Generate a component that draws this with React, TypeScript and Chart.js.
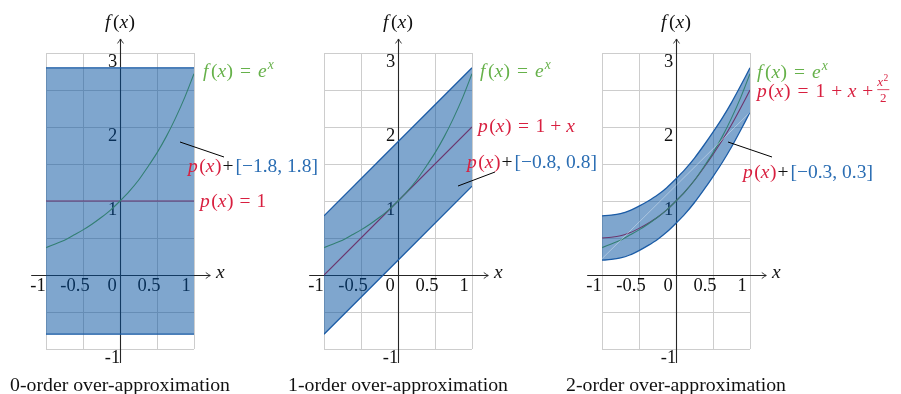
import React, { useEffect, useRef } from 'react';
import { Chart, registerables } from 'chart.js';

Chart.register(...registerables);

// ---------- data ----------
const curveX = [-1, -0.875, -0.75, -0.625, -0.5, -0.375, -0.25, -0.125, 0, 0.125, 0.25, 0.375, 0.5, 0.625, 0.75, 0.875, 1];
const expValues = [0.37, 0.42, 0.47, 0.54, 0.61, 0.69, 0.78, 0.88, 1.0, 1.13, 1.28, 1.46, 1.65, 1.87, 2.12, 2.4, 2.72];

const order0X = [-1, 1];
const order0P = [1, 1];
const order0Upper = [2.8, 2.8];
const order0Lower = [-0.8, -0.8];

const order1X = [-1, 1];
const order1P = [0, 2];
const order1Upper = [0.8, 2.8];
const order1Lower = [-0.8, 1.2];

const order2P = [0.5, 0.51, 0.53, 0.57, 0.63, 0.7, 0.78, 0.88, 1.0, 1.13, 1.28, 1.45, 1.63, 1.82, 2.03, 2.26, 2.5];
const order2Upper = [0.8, 0.81, 0.83, 0.87, 0.93, 1.0, 1.08, 1.18, 1.3, 1.43, 1.58, 1.75, 1.93, 2.12, 2.33, 2.56, 2.8];
const order2Lower = [0.2, 0.21, 0.23, 0.27, 0.33, 0.4, 0.48, 0.58, 0.7, 0.83, 0.98, 1.15, 1.33, 1.52, 1.73, 1.96, 2.2];
const order2SeamX = [-1, 1];
const order2SeamY = [0.22, 2.2];

const xTickValues = [-1, -0.5, 0, 0.5, 1];
const xTickLabels = ['-1', '-0.5', '0', '0.5', '1'];
const yTickValues = [-1, 1, 2, 3];
const yTickLabels = ['-1', '1', '2', '3'];

const captions = ['0-order over-approximation', '1-order over-approximation', '2-order over-approximation'];
const intervals = ['[\u22121.8, 1.8]', '[\u22120.8, 0.8]', '[\u22120.3, 0.3]'];

// ---------- style ----------
const W = 345;
const H = 394;
const RED = '#d81f3f';
const GREEN = '#66b14a';
const BLUE = '#2a6db3';
const BAND = 'rgba(0, 78, 158, 0.5)';
const EDGE = '#1b5ca6';
const SERIF = '"Liberation Serif", "Times New Roman", serif';
const TICK_SIZE = 18.5;
const CAPTION_SIZE = 19.8;
const MATH_SIZE = 19.5;

type Part = { t: string; it?: boolean; c?: string; sup?: boolean; dx?: number };

function drawRich(ctx: CanvasRenderingContext2D, x: number, y: number, parts: Part[], size: number, color: string, draw = true): number {
  let cx = x;
  for (const p of parts) {
    const s = p.sup ? size * 0.7 : size;
    ctx.font = `${p.it ? 'italic ' : ''}${s}px ${SERIF}`;
    ctx.fillStyle = p.c ?? color;
    cx += p.dx ?? 0;
    if (draw) ctx.fillText(p.t, cx, p.sup ? y - size * 0.4 : y);
    cx += ctx.measureText(p.t).width;
  }
  return cx;
}

const pX: Part[] = [{ t: 'p', it: true }, { t: '(', dx: 1.5 }, { t: 'x', it: true }, { t: ')', dx: 0.5 }];
const fLabelParts: Part[] = [
  { t: 'f', it: true }, { t: '(', dx: 2.5 }, { t: 'x', it: true }, { t: ')', dx: 0.5 },
  { t: '=', dx: 7 }, { t: 'e', it: true, dx: 7 }, { t: 'x', it: true, sup: true, dx: 1 },
];
const p0Parts: Part[] = [...pX, { t: '=', dx: 6 }, { t: '1', dx: 6 }];
const p1Parts: Part[] = [...pX, { t: '=', dx: 6.5 }, { t: '1', dx: 6.5 }, { t: '+', dx: 5 }, { t: 'x', it: true, dx: 5 }];
const p2Parts: Part[] = [...pX, { t: '=', dx: 7 }, { t: '1', dx: 7 }, { t: '+', dx: 6 }, { t: 'x', it: true, dx: 5.5 }, { t: '+', dx: 6 }];

interface PanelCfg {
  left: number;
  idx: number;
  bandX: number[];
  upper: number[];
  lower: number[];
  polyX: number[];
  poly: number[];
  seamX?: number[];
  seamY?: number[];
  pParts: Part[];
  frac?: boolean;
  fPos: [number, number];
  pPos: [number, number];
  iPos: [number, number];
  pointer: [number, number, number, number];
}

const panels: PanelCfg[] = [
  {
    left: 0, idx: 0, bandX: order0X, upper: order0Upper, lower: order0Lower, polyX: order0X, poly: order0P,
    pParts: p0Parts, fPos: [83, -198], pPos: [80, -68], iPos: [68, -103], pointer: [60, -133, 104, -118],
  },
  {
    left: 278, idx: 1, bandX: order1X, upper: order1Upper, lower: order1Lower, polyX: order1X, poly: order1P,
    pParts: p1Parts, fPos: [82, -198], pPos: [80, -143], iPos: [69, -107], pointer: [60, -89, 97, -103],
  },
  {
    left: 556, idx: 2, bandX: curveX, upper: order2Upper, lower: order2Lower, polyX: curveX, poly: order2P,
    seamX: order2SeamX, seamY: order2SeamY,
    pParts: p2Parts, frac: true, fPos: [81, -197.5], pPos: [81, -178.5], iPos: [67, -97], pointer: [52, -133, 96, -118],
  },
];

const pts = (xs: number[], ys: number[]) => xs.map((x, i) => ({ x, y: ys[i] }));

function makePlugin(cfg: PanelCfg) {
  return {
    id: 'panelDeco' + cfg.idx,
    beforeDatasetsDraw(chart: any) {
      const ctx: CanvasRenderingContext2D = chart.ctx;
      const xs = chart.scales.x;
      const ys = chart.scales.y;
      const ox = Math.round(xs.getPixelForValue(0)) + 0.5;
      const oy = Math.round(ys.getPixelForValue(0)) + 0.5;
      ctx.save();
      ctx.strokeStyle = '#262626';
      ctx.lineWidth = 1.1;
      const xL = xs.getPixelForValue(-1.2);
      const xR = xs.getPixelForValue(1.22);
      const yT = ys.getPixelForValue(3.19);
      const yB = ys.getPixelForValue(-1.19);
      ctx.beginPath();
      ctx.moveTo(xL, oy); ctx.lineTo(xR, oy);
      ctx.moveTo(ox, yB); ctx.lineTo(ox, yT);
      ctx.stroke();
      ctx.lineWidth = 0.9;
      ctx.beginPath();
      ctx.moveTo(xR - 4.5, oy - 3); ctx.quadraticCurveTo(xR - 1.5, oy - 0.8, xR, oy); ctx.quadraticCurveTo(xR - 1.5, oy + 0.8, xR - 4.5, oy + 3);
      ctx.moveTo(ox - 3, yT + 4.5); ctx.quadraticCurveTo(ox - 0.8, yT + 1.5, ox, yT); ctx.quadraticCurveTo(ox + 0.8, yT + 1.5, ox + 3, yT + 4.5);
      ctx.stroke();
      // tick labels
      ctx.font = `${TICK_SIZE}px ${SERIF}`;
      ctx.fillStyle = '#111';
      ctx.textAlign = 'center';
      ctx.textBaseline = 'alphabetic';
      xTickValues.forEach((v, i) => ctx.fillText(xTickLabels[i], xs.getPixelForValue(v) - 8, oy + 15));
      yTickValues.forEach((v, i) => ctx.fillText(yTickLabels[i], ox - 8, ys.getPixelForValue(v) + 13.5));
      ctx.restore();
    },
    afterDatasetsDraw(chart: any) {
      const ctx: CanvasRenderingContext2D = chart.ctx;
      const xs = chart.scales.x;
      const ys = chart.scales.y;
      const ox = xs.getPixelForValue(0);
      const oy = ys.getPixelForValue(0);
      ctx.save();
      ctx.textAlign = 'left';
      ctx.textBaseline = 'alphabetic';
      // pointer line
      const [a, b, c, d] = cfg.pointer;
      ctx.strokeStyle = '#000';
      ctx.lineWidth = 1;
      ctx.beginPath();
      ctx.moveTo(ox + a, oy + b);
      ctx.lineTo(ox + c, oy + d);
      ctx.stroke();
      // f label
      drawRich(ctx, ox + cfg.fPos[0], oy + cfg.fPos[1], fLabelParts, MATH_SIZE, GREEN);
      // p label
      const px = ox + cfg.pPos[0];
      const py = oy + cfg.pPos[1];
      const end = drawRich(ctx, px, py, cfg.pParts, MATH_SIZE, RED);
      if (cfg.frac) {
        const fx = end + 4;
        ctx.fillStyle = RED;
        ctx.font = `italic 13px ${SERIF}`;
        const wx = ctx.measureText('x').width;
        ctx.fillText('x', fx, py - 10.5);
        ctx.font = `9.5px ${SERIF}`;
        const w2 = ctx.measureText('2').width;
        ctx.fillText('2', fx + wx + 0.5, py - 15.5);
        const fw = wx + w2 + 1.5;
        ctx.fillRect(fx, py - 7.2, fw, 0.8);
        ctx.font = `13px ${SERIF}`;
        const wd = ctx.measureText('2').width;
        ctx.fillText('2', fx + (fw - wd) / 2, py + 5);
      }
      // interval label
      const iparts: Part[] = [
        ...pX.map((p) => ({ ...p, c: RED })),
        { t: '+', c: '#111', dx: 1 },
        { t: intervals[cfg.idx], c: BLUE, dx: 2 },
      ];
      drawRich(ctx, ox + cfg.iPos[0], oy + cfg.iPos[1], iparts, MATH_SIZE, RED);
      // axis titles
      const fx: Part[] = [{ t: 'f', it: true }, { t: '(', dx: 2.5 }, { t: 'x', it: true }, { t: ')', dx: 0.5 }];
      const wTitle = drawRich(ctx, 0, 0, fx, MATH_SIZE, '#111', false);
      drawRich(ctx, ox - wTitle / 2, 28, fx, MATH_SIZE, '#111');
      drawRich(ctx, ox + 96, oy + 3, [{ t: 'x', it: true }], MATH_SIZE, '#111');
      // caption
      ctx.font = `${CAPTION_SIZE}px ${SERIF}`;
      ctx.fillStyle = '#111';
      ctx.textAlign = 'center';
      ctx.fillText(captions[cfg.idx], ox, oy + 115.5);
      ctx.restore();
    },
  };
}

function buildConfig(cfg: PanelCfg): any {
  const datasets: any[] = [];
  if (cfg.seamX && cfg.seamY) {
    datasets.push({
      data: pts(cfg.seamX, cfg.seamY), borderColor: 'rgba(255,255,255,0.5)', borderWidth: 0.7,
      pointRadius: 0, fill: false, tension: 0,
    });
  }
  datasets.push({
    data: pts(cfg.bandX, cfg.upper), borderColor: EDGE, borderWidth: 1.3, pointRadius: 0,
    fill: false, tension: 0.3,
  });
  datasets.push({
    data: pts(cfg.bandX, cfg.lower), borderColor: EDGE, borderWidth: 1.3, pointRadius: 0,
    fill: '-1', backgroundColor: BAND, tension: 0.3,
  });
  datasets.push({
    data: pts(curveX, expValues), borderColor: GREEN, borderWidth: 1.1, pointRadius: 0,
    fill: false, tension: 0.3,
  });
  datasets.push({
    data: pts(cfg.polyX, cfg.poly), borderColor: RED, borderWidth: 1.1, pointRadius: 0,
    fill: false, tension: 0.3,
  });

  const grid = { color: '#cdcdcd', lineWidth: 1, drawTicks: false };
  return {
    type: 'line',
    data: { datasets },
    options: {
      animation: false,
      responsive: false,
      devicePixelRatio: 1,
      events: [],
      layout: { padding: { left: 46, right: W - 194, top: 53, bottom: 45 } },
      plugins: { legend: { display: false }, tooltip: { enabled: false } },
      scales: {
        x: {
          type: 'linear', min: -1, max: 1, position: { y: 0 },
          ticks: { display: false, stepSize: 0.5 }, grid, border: { display: false },
        },
        y: {
          type: 'linear', min: -1, max: 3, position: { x: 0 },
          ticks: { display: false, stepSize: 0.5 }, grid, border: { display: false },
        },
      },
    },
    plugins: [makePlugin(cfg)],
  };
}

function Panel({ cfg }: { cfg: PanelCfg }) {
  const ref = useRef<HTMLCanvasElement>(null);
  useEffect(() => {
    if (!ref.current) return;
    const chart = new Chart(ref.current, buildConfig(cfg));
    return () => chart.destroy();
  }, [cfg]);
  return (
    <canvas
      ref={ref}
      width={W}
      height={H}
      style={{ position: 'absolute', left: cfg.left, top: 0, width: W, height: H }}
    />
  );
}

export default function App() {
  return (
    <div style={{ position: 'fixed', left: 0, top: 0, width: 901, height: 394, background: '#ffffff', overflow: 'hidden' }}>
      {panels.map((p) => (
        <Panel key={p.idx} cfg={p} />
      ))}
    </div>
  );
}
